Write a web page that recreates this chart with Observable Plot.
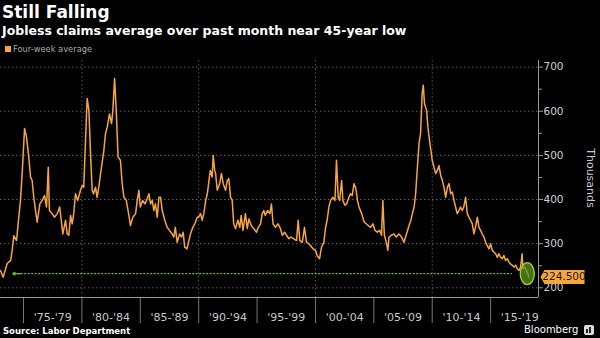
<!DOCTYPE html>
<html>
<head>
<meta charset="utf-8">
<script src="https://cdn.jsdelivr.net/npm/d3@7"></script>
<script src="https://cdn.jsdelivr.net/npm/@observablehq/plot@0.6"></script>
<style>
  html, body { margin: 0; padding: 0; background: #000; }
  #wrap { position: relative; width: 600px; height: 338px; overflow: hidden; background: #000; font-family: "DejaVu Sans", sans-serif; }
  .abs { position: absolute; white-space: nowrap; }
  #title { left: 2px; top: 4px; font-size: 17px; font-weight: bold; color: #fff; line-height: 17px; }
  #subtitle { left: 2px; top: 24px; font-size: 12.5px; font-weight: bold; color: #fff; line-height: 13px; }
  #legend { left: 5px; top: 45px; font-size: 8.3px; color: #aaa; line-height: 9px; }
  #legend .sw { display: inline-block; width: 6px; height: 6px; background: #f7a541; margin-right: 2px; vertical-align: 0px; }
  #chart { position: absolute; left: 0; top: 56px; }
  #ylabel { left: 590px; top: 178px; font-size: 11px; color: #ccc; transform: translate(-50%, -50%) rotate(90deg); }
  #source { left: 3px; top: 326px; font-size: 8.5px; font-weight: bold; color: #fff; line-height: 10px; }
  #brand { left: 524px; top: 324px; font-size: 10px; color: #fff; line-height: 12px; }
  #icon { left: 584px; top: 325px; width: 10px; height: 10px; background: #ddd; border-radius: 2px; }
  #icon i { position: absolute; bottom: 2px; width: 2px; background: #222; }
</style>
</head>
<body>
<div id="wrap">
  <div id="title" class="abs">Still Falling</div>
  <div id="subtitle" class="abs">Jobless claims average over past month near 45-year low</div>
  <div id="legend" class="abs"><span class="sw"></span>Four-week average</div>
  <div id="chart"></div>
  <div id="ylabel" class="abs">Thousands</div>
  <div id="source" class="abs">Source: Labor Department</div>
  <div id="brand" class="abs">Bloomberg</div>
  <div id="icon" class="abs"><i style="left:2px;height:4px"></i><i style="left:5px;height:6px"></i></div>
</div>
<script>
// ---- data ----
const years = [
  1973.03,1973.26,1973.6,1973.9,1974.03,1974.17,1974.4,1974.74,1974.9,1975.09,1975.26,1975.45,1975.6,1975.74,1975.88,
  1976.03,1976.17,1976.4,1976.6,1976.8,1976.97,1977.12,1977.22,1977.46,1977.65,1977.89,1978.1,1978.23,1978.37,1978.6,
  1978.74,1978.88,1979.03,1979.17,1979.3,1979.45,1979.65,1979.88,1980.03,1980.16,1980.3,1980.45,1980.6,1980.74,1980.88,
  1981.0,1981.17,1981.3,1981.45,1981.6,1981.88,1982.02,1982.17,1982.36,1982.54,1982.65,1982.8,1982.94,1983.1,1983.3,
  1983.45,1983.6,1983.8,1984.0,1984.16,1984.36,1984.6,1984.74,1984.88,1985.0,1985.2,1985.4,1985.6,1985.74,1985.88,
  1986.03,1986.16,1986.3,1986.45,1986.6,1986.74,1986.88,1987.1,1987.3,1987.5,1987.73,1987.87,1988.0,1988.16,1988.36,
  1988.53,1988.67,1988.8,1989.0,1989.16,1989.3,1989.5,1989.67,1989.88,1990.0,1990.16,1990.3,1990.44,1990.6,1990.74,
  1990.88,1991.0,1991.16,1991.24,1991.37,1991.45,1991.59,1991.8,1991.95,1992.1,1992.3,1992.45,1992.58,1992.73,1992.87,
  1993.0,1993.16,1993.35,1993.52,1993.64,1993.8,1994.0,1994.16,1994.3,1994.5,1994.72,1994.95,1995.1,1995.3,1995.44,
  1995.58,1995.7,1995.9,1996.1,1996.23,1996.37,1996.58,1996.8,1997.0,1997.16,1997.35,1997.52,1997.73,1997.9,1998.15,
  1998.38,1998.52,1998.66,1998.87,1999.06,1999.23,1999.43,1999.57,1999.8,2000.0,2000.14,2000.35,2000.52,2000.72,2000.87,
  2001.0,2001.15,2001.3,2001.5,2001.67,2001.8,2001.95,2002.07,2002.24,2002.35,2002.52,2002.67,2002.86,2003.0,2003.15,
  2003.3,2003.46,2003.6,2003.73,2003.96,2004.17,2004.35,2004.52,2004.72,2004.92,2005.1,2005.3,2005.5,2005.66,2005.77,
  2005.9,2006.07,2006.2,2006.3,2006.5,2006.72,2006.92,2007.15,2007.38,2007.58,2007.8,2007.97,2008.17,2008.3,2008.45,
  2008.58,2008.73,2008.87,2009.0,2009.14,2009.23,2009.34,2009.52,2009.63,2009.8,2010.0,2010.15,2010.3,2010.44,2010.58,
  2010.72,2010.87,2011.0,2011.15,2011.3,2011.44,2011.58,2011.72,2011.86,2012.0,2012.14,2012.28,2012.43,2012.57,2012.7,
  2012.86,2013.0,2013.14,2013.28,2013.43,2013.57,2013.7,2013.86,2014.0,2014.14,2014.28,2014.43,2014.57,2014.7,2014.86,
  2015.0,2015.14,2015.28,2015.43,2015.57,2015.7,2015.86,2016.0,2016.14,2016.28,2016.43,2016.57,2016.7,2016.86,2017.0,
  2017.14,2017.28,2017.43,2017.57,2017.7,2017.77,2017.9,2018.07,2018.19,2018.27
];
const claims = [
  239,224,255,262,285,318,307,398,466,561,541,496,451,443,405,
  375,349,390,398,409,383,473,375,368,360,368,383,353,322,353,
  322,319,364,345,368,413,398,421,432,428,527,629,602,504,421,
  413,428,405,428,459,511,549,564,594,572,602,674,602,496,489,
  436,405,398,368,341,360,368,398,421,383,398,390,402,413,390,
  398,375,390,360,405,405,375,353,337,330,322,315,337,303,322,
  315,326,292,288,307,322,337,345,360,360,368,353,368,398,413,
  443,466,451,500,466,459,421,436,459,436,421,443,447,405,398,
  345,334,353,337,364,330,368,334,356,341,334,326,337,345,368,
  375,364,375,368,390,345,337,345,334,319,326,319,311,315,311,
  307,353,307,303,337,303,300,296,288,285,273,266,292,303,337,
  353,383,398,405,398,489,405,398,443,398,387,390,405,413,409,
  436,425,398,383,368,349,345,341,337,345,330,326,330,319,398,
  319,303,285,315,319,322,315,322,315,303,322,337,353,368,383,
  413,473,527,549,640,659,617,602,564,527,489,473,459,466,477,
  455,443,428,405,428,436,413,417,398,383,368,375,383,375,383,
  405,368,360,353,345,322,337,360,337,330,322,315,303,296,288,
  300,285,281,277,269,277,269,266,273,262,266,258,254,251,247,
  251,243,239,247,277,243,247,239,232,224.5
];
const periodStarts = [1975, 1980, 1985, 1990, 1995, 2000, 2005, 2010, 2015];
const periodLabels = ["'75-'79", "'80-'84", "'85-'89", "'90-'94", "'95-'99", "'00-'04", "'05-'09", "'10-'14", "'15-'19"];
const decadeGrid = [1980, 1990, 2000, 2010];
const yTicks = [200, 300, 400, 500, 600, 700];
const yMinorTicks = [250, 350, 450, 550, 650];
const lastValue = 224.5;
const lastLabel = "224.500";
const lowLevel = 232;           // level of the green reference line
const xDomain = [1973.03, 2019.1];
const yDomain = [178, 715];
const separatorBottom = 119;    // separators run below the axis, into the label band

// ---- styles ----
const orange = "#f7a541";
const green = "#76b82a";
const axisGray = "#9a9a9a";

const series = years.map((year, i) => ({year, value: claims[i]}));
const periodCenters = periodStarts.map(d => d + 2.5);

const ellipseSymbol = {
  draw(ctx) {
    const rx = 7, ry = 11, k = 0.5523;
    ctx.moveTo(rx, 0);
    ctx.bezierCurveTo(rx, k * ry, k * rx, ry, 0, ry);
    ctx.bezierCurveTo(-k * rx, ry, -rx, k * ry, -rx, 0);
    ctx.bezierCurveTo(-rx, -k * ry, -k * rx, -ry, 0, -ry);
    ctx.bezierCurveTo(k * rx, -ry, rx, -k * ry, rx, 0);
    ctx.closePath();
  }
};
const tagSymbol = {
  draw(ctx) {
    ctx.moveTo(2, 0);
    ctx.lineTo(6, -7);
    ctx.lineTo(46, -7);
    ctx.lineTo(46, 7);
    ctx.lineTo(6, 7);
    ctx.closePath();
  }
};

const chart = Plot.plot({
  width: 600,
  height: 282,
  marginTop: 4,
  marginBottom: 41,
  marginLeft: 0,
  marginRight: 62,
  style: {background: "transparent", color: "#c8c8c8", fontFamily: "DejaVu Sans, sans-serif", fontSize: "10px", overflow: "visible"},
  x: {domain: xDomain},
  y: {domain: yDomain},
  marks: [
    Plot.gridY(yTicks, {stroke: "#8a8a8a", strokeOpacity: 0.7, strokeDasharray: "1.5,2.5"}),
    Plot.gridX(decadeGrid, {stroke: "#8a8a8a", strokeOpacity: 0.6, strokeDasharray: "1.5,2.5"}),
    Plot.ruleX(periodStarts, {y1: yDomain[0], y2: separatorBottom, stroke: "#777"}),
    Plot.ruleY([yDomain[0]], {stroke: axisGray}),
    Plot.ruleX([xDomain[1]], {stroke: axisGray}),
    Plot.axisX(periodCenters, {anchor: "bottom", tickSize: 0, tickPadding: 16, fontSize: 11, color: "#c8c8c8",
      tickFormat: d => periodLabels[periodCenters.indexOf(d)], label: null}),
    Plot.axisY(yMinorTicks, {anchor: "right", tickSize: 3, stroke: axisGray, tickFormat: () => "", label: null}),
    Plot.axisY(yTicks, {anchor: "right", tickSize: 4, tickPadding: 1, fontSize: 10.5, stroke: axisGray, color: "#d0d0d0", label: null}),
    Plot.ruleY([lowLevel], {x1: 1974.2, x2: 2016.87, stroke: green, strokeWidth: 1.2, strokeDasharray: "2,1.5"}),
    Plot.arrow([{x1: 1974.75, x2: 1974.08, y: lowLevel}], {x1: "x1", x2: "x2", y1: "y", y2: "y", stroke: green, strokeWidth: 1.3, headLength: 6}),
    Plot.line(series, {x: "year", y: "value", stroke: orange, strokeWidth: 1.5}),
    Plot.dot([{x: 2018.14, y: lowLevel}], {x: "x", y: "y", symbol: ellipseSymbol, r: 8, fill: "#5d9a18", fillOpacity: 0.75, stroke: "#9ed23a", strokeWidth: 1.3}),
    Plot.dot([{x: xDomain[1], y: lastValue}], {x: "x", y: "y", symbol: tagSymbol, r: 8, fill: orange, stroke: "none"}),
    Plot.text([{x: xDomain[1], y: lastValue, t: lastLabel}], {x: "x", y: "y", text: "t", dx: 25.5, fill: "#1a1a1a", fontSize: 10.5, textAnchor: "middle"})
  ]
});
document.getElementById("chart").appendChild(chart);
</script>
</body>
</html>
